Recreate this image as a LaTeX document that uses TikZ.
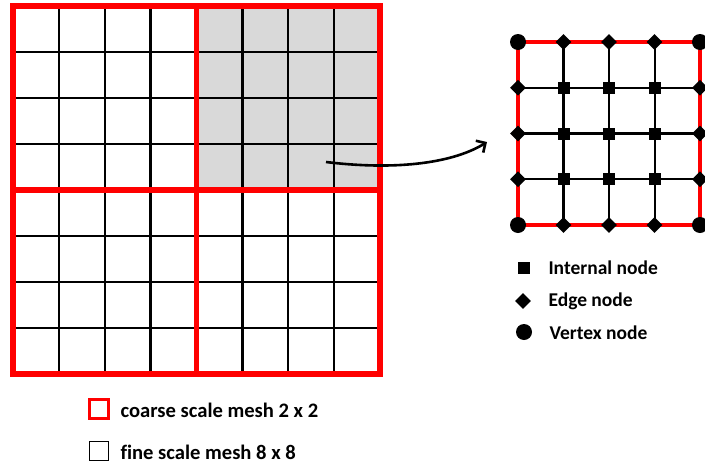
\documentclass[tikz,border=0pt]{standalone}
\usepackage{fontspec}
\setmainfont[Ligatures=CommonOff]{Carlito}
\usetikzlibrary{arrows.meta, positioning, shapes.geometric}
\definecolor{meshred}{HTML}{FF0000}
\definecolor{cellgray}{HTML}{D9D9D9}

\tikzset{
  fineline/.style={line width=2.4pt, black},
  coarseline/.style={line width=5.5pt, meshred},
  internalnode/.style={rectangle, fill=black, minimum size=12pt, inner sep=0pt},
  edgenode/.style={diamond, fill=black, minimum size=16pt, inner sep=0pt},
  vertexnode/.style={circle, fill=black, minimum size=16pt, inner sep=0pt},
  legendtext/.style={font=\fontsize{19.5}{23}\selectfont\bfseries, anchor=west},
  meshtext/.style={font=\fontsize{20.6}{25}\selectfont\bfseries, anchor=west},
}

\begin{document}
\begin{tikzpicture}[x=1pt, y=-1pt]
  \useasboundingbox (0,0) rectangle (705,469);

  % fine scale mesh 8 x 8
  \fill[cellgray] (197,6) rectangle (380,190);
  \foreach \i in {1,...,7} {
    \draw[fineline] ({13+\i*45.875},6) -- ({13+\i*45.875},374);
    \draw[fineline] (13,{6+\i*46}) -- (380,{6+\i*46});
  }

  % coarse scale mesh 2 x 2
  \draw[coarseline] (13,6) rectangle (380,374);
  \draw[coarseline] (196.5,6) -- (196.5,374);
  \draw[coarseline] (13,190) -- (380,190);

  % zoomed coarse cell
  \foreach \i in {1,2,3} {
    \draw[fineline] ({518+\i*45.6},42) -- ({518+\i*45.6},225);
    \draw[fineline] (518,{42+\i*45.75}) -- (700,{42+\i*45.75});
  }
  \draw[line width=4.5pt, meshred] (518,42) rectangle (700,225);

  \foreach \i in {0,...,4} {
    \foreach \j in {0,...,4} {
      \pgfmathtruncatemacro{\onx}{(\i==0)||(\i==4)}
      \pgfmathtruncatemacro{\ony}{(\j==0)||(\j==4)}
      \pgfmathtruncatemacro{\kind}{\onx+\ony}
      \ifcase\kind
        \node[internalnode] (n-\i-\j) at ({518+\i*45.5},{42+\j*45.75}) {};
      \or
        \node[edgenode] (n-\i-\j) at ({518+\i*45.5},{42+\j*45.75}) {};
      \else
        \node[vertexnode] (n-\i-\j) at ({518+\i*45.5},{42+\j*45.75}) {};
      \fi
    }
  }

  % zoom arrow
  \coordinate (zoomfrom) at (326,162);
  \coordinate (zoomto) at (487,142);
  \draw[-{Straight Barb[length=7pt, width=14pt]}, line width=2.6pt]
    (zoomfrom) .. controls (400,171) and (455,162) .. (zoomto);

  % node legend
  \node[internalnode] (keyinternal) at (524,268) {};
  \node[legendtext] (keyinternaltext) at (545,268) {Internal node};
  \node[edgenode] (keyedge) at (523,301) {};
  \node[legendtext] (keyedgetext) at (545,301) {Edge node};
  \node[vertexnode] (keyvertex) at (524,332) {};
  \node[legendtext] (keyvertextext) at (546,333) {Vertex node};

  % mesh legend
  \node[draw=meshred, line width=2.8pt, minimum size=19pt, inner sep=0pt] (keycoarse) at (99,409) {};
  \node[meshtext] (keycoarsetext) at (117,410) {coarse scale mesh 2 x 2};
  \node[draw=black, line width=1.8pt, minimum size=19pt, inner sep=0pt] (keyfine) at (99,451) {};
  \node[meshtext] (keyfinetext) at (117,452) {fine scale mesh 8 x 8};
\end{tikzpicture}
\end{document}
